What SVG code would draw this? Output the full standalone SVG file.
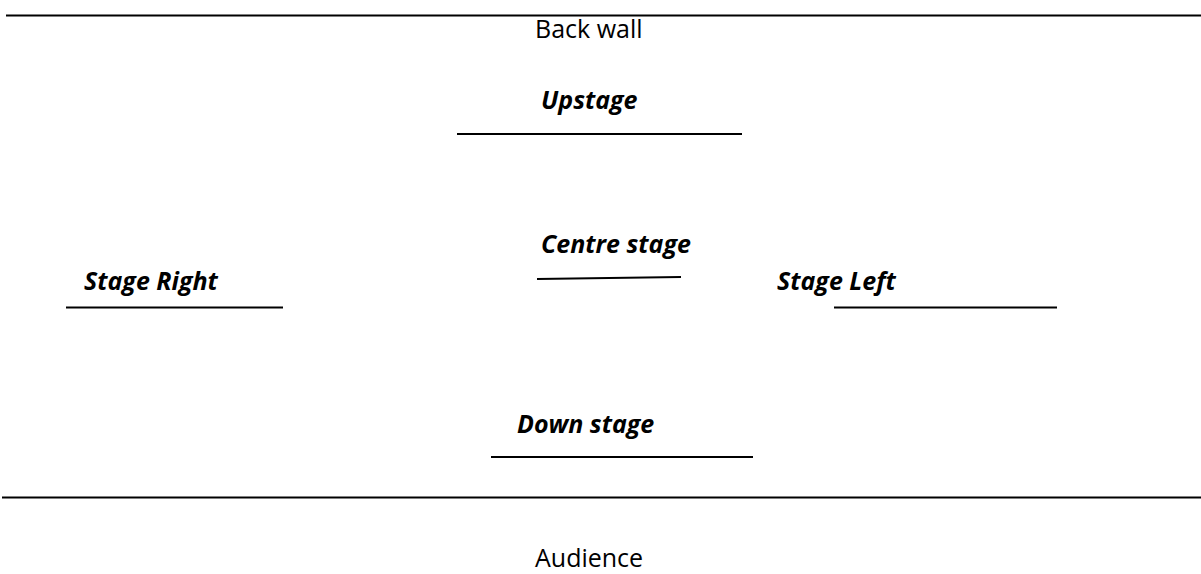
<svg xmlns="http://www.w3.org/2000/svg" width="1201" height="574" viewBox="0 0 1201 574">
<style>
.t{font-family:"Open Sans","Liberation Sans",sans-serif;font-size:25px;fill:#000}
.b{font-weight:bold;font-style:italic}
.l{stroke:#000;stroke-width:2;fill:none}
</style>
<rect width="1201" height="574" fill="#fff"/>
<g id="walls">
<line class="l" x1="6" y1="15.5" x2="1201" y2="15.5"/>
<line class="l" x1="2" y1="497.5" x2="1201" y2="497.5"/>
</g>
<g id="back-wall"><text class="t" x="535" y="38">Back wall</text></g>
<g id="upstage"><text class="t b" x="541" y="109">Upstage</text><line class="l" x1="457" y1="134" x2="742" y2="134"/></g>
<g id="centre-stage"><text class="t b" x="541" y="253">Centre stage</text><line class="l" x1="537" y1="279" x2="681" y2="277"/></g>
<g id="stage-right"><text class="t b" x="84" y="290">Stage Right</text><line class="l" x1="66" y1="307.5" x2="283" y2="307.5"/></g>
<g id="stage-left"><text class="t b" x="777" y="290">Stage Left</text><line class="l" x1="834" y1="307.5" x2="1057" y2="307.5"/></g>
<g id="down-stage"><text class="t b" x="517" y="433">Down stage</text><line class="l" x1="491" y1="457" x2="753" y2="457"/></g>
<g id="audience"><text class="t" x="535" y="567">Audience</text></g>
</svg>
